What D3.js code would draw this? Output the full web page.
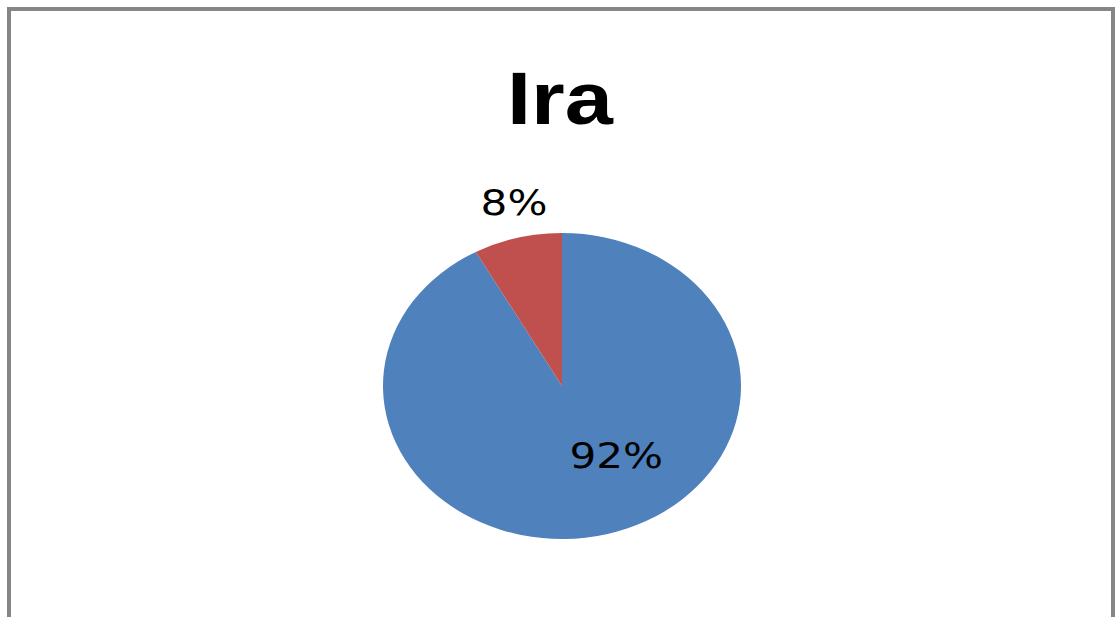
<!DOCTYPE html>
<html>
<head>
<meta charset="utf-8">
<script src="https://cdn.jsdelivr.net/npm/d3@7"></script>
<style>
  body { margin: 0; background: #fff; }
  svg { display: block; }
</style>
</head>
<body>
<svg width="1115" height="617"></svg>
<script>
// chart data
const title = "Ira";
const categories = ["A", "B"];
const values = [92, 8];
const colors = ["#4F81BD", "#C0504D"];

// label placement (polar, unstretched pie space): radius, angle in degrees from 12 o'clock
const labelPolar = [
    {r: 83, a: 146},
    {r: 188, a: 347.4}
];

const svg = d3.select("svg");

// frame
svg.append("rect")
    .attr("x", 9).attr("y", 9)
    .attr("width", 1104).attr("height", 700)
    .attr("fill", "#fff")
    .attr("stroke", "#868686")
    .attr("stroke-width", 4);

// the original is stretched horizontally
const sx = 1.17;
const cx = 562, cy = 386, radius = 153;

// title
svg.append("text")
    .attr("transform", `translate(560,124) scale(${sx},1)`)
    .attr("text-anchor", "middle")
    .style("font-family", "'Liberation Sans', Arial, sans-serif")
    .style("font-weight", "bold")
    .style("font-size", "74px")
    .attr("fill", "#000")
    .text(title);

const g = svg.append("g")
    .attr("transform", `translate(${cx},${cy}) scale(${sx},1)`);

const pie = d3.pie().sort(null).value(d => d);
const arcs = pie(values);
const arc = d3.arc().innerRadius(0).outerRadius(radius);

g.selectAll("path.slice")
    .data(arcs)
    .enter().append("path")
    .attr("class", "slice")
    .attr("d", arc)
    .attr("fill", (d, i) => colors[i]);

const total = d3.sum(values);
g.selectAll("text.lbl")
    .data(arcs)
    .enter().append("text")
    .attr("class", "lbl")
    .attr("transform", (d, i) => {
        const p = labelPolar[i];
        const ang = p.a * Math.PI / 180;
        return `translate(${p.r * Math.sin(ang)},${-p.r * Math.cos(ang)})`;
    })
    .attr("text-anchor", "middle")
    .attr("dy", "0.36em")
    .style("font-family", "'DejaVu Sans', Verdana, sans-serif")
    .style("font-size", "36px")
    .attr("fill", "#000")
    .text(d => Math.round(d.value / total * 100) + "%");
</script>
</body>
</html>
